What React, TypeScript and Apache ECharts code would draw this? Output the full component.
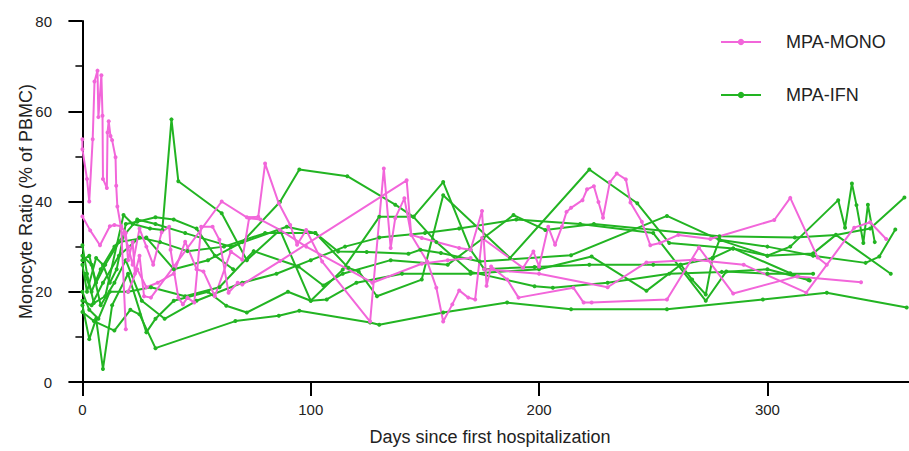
import React, { useEffect, useRef } from 'react';
import * as echarts from 'echarts';

const xTickValues = [0, 100, 200, 300];
const legendNames = ['MPA-MONO', 'MPA-IFN'];

// MPA-MONO patients: [day, monocyte %]
const mono1: number[][] = [[0,53.8],[0,51.6],[2,45],[3,40],[4.5,53.8],[5.3,66.6],[6.6,69],[7,58.7],[8.3,68],[8.8,59],[9,45],[10.7,43],[11,55.3],[11.5,57.8],[12.3,54.5],[13,53.6],[14.5,49.8],[14.8,43.5],[15.3,38.9],[17,34],[19,11.7]];
const mono2: number[][] = [[0,36.7],[3.4,33.6],[7.7,30.3],[12,34.5],[14,34.8],[17,34.5],[19,33],[20,27],[22,31],[23,24],[25,28],[27,19],[30,18.7],[61,40],[72,36.5],[77,36.6],[80,48.4],[86,39.6],[91,34.8],[94,30.4],[98,33.7],[105,26.7],[126,13.4],[132,47.3],[135,29.7],[137,36.3],[141,40.7],[144,32.6],[148.6,31.9],[165,29.7],[170,29.3],[175,37.9],[177,21.3],[179,25.6],[186,22.7],[191,18.7],[215,20.9],[219.5,17.6],[223,17.6],[256,18.3],[270,29.8],[285,19.6],[313,23.4],[341,22.1]];
const mono3: number[][] = [[18,33],[20,30],[22,26],[25,34],[28,30],[31,26],[34.7,33.2],[38,34.4],[38.6,29.3],[42,18.7],[44,17.2],[46,18.7],[49,17.6],[52,34.4],[57,34.4],[60,31.5],[64,19.8],[68,22],[70,21.6],[86.5,26.8],[142,44.7],[144,32.6],[151,26.7],[155,20.9],[158,13.4],[162,17.2],[165,20.3],[169,18.7],[172,18.3],[175,31.9],[193,25.3],[197.5,28.9],[200,25.6],[204,34.4],[207,30.4],[210,34.4],[212,37.7],[214,38.6],[219,40.3],[221,42.7],[224,43.4],[226,39.9],[228,36.4],[231,44.3],[234,46.2],[238,44.9],[240,39.8],[245,35.5],[248.7,30.3],[253,30.8],[261,32.6],[275,31.7],[303,35.9],[310,40.8],[322,27.6],[326,26]];
const mono4: number[][] = [[20,20],[24,25],[28,21],[33,22],[40,24],[45,31.1],[50,25],[53,24.5],[58,19],[65,28.9],[70,27.1],[73,36.3],[78,36],[86.5,33.7],[98,30],[127,22],[148.6,26.2],[160,27],[170,27.5]];
const mono5: number[][] = [[176,25],[200,24],[230,21],[247,26.5],[268,27.1],[289.6,26],[317,19.8],[338,34.2],[345,35.4],[352,31.7]];

// MPA-IFN patients: [day, monocyte %]
const ifn1: number[][] = [[0,15.5],[5,13.5],[14,11.4],[21,16],[25,15],[32,7.5],[67,13.5],[86,14.7],[95,15.8],[126,13.2],[130,12.7],[158,15.4],[186,17.6],[214,16.1],[256,16.1],[298,18.3],[326,19.8],[361,16.5]];
const ifn2: number[][] = [[0,30.3],[2,24],[5,17.5],[10,19],[18,37],[22,35],[29.6,34],[35,33.7],[39,58.2],[42,44.5],[61,37.4],[72,27],[86.5,33.7],[100,18],[114,24.9],[130,36.6],[145,36.6],[158,44.3],[170,29.3],[176,25],[198,25.5],[222,26],[250,26],[262,26],[276,27.5],[285,29.6],[310,24.1],[318.5,22.5]];
const ifn3: number[][] = [[0,27],[3,28],[6,22],[10,26],[16,31],[28,32],[40,25],[55,27],[70,31],[86.5,39.9],[95,47.1],[116,45.6],[137,39.3],[145,36.6],[155,31],[170,24.4],[198,21.2],[206,20.9],[230,22],[257,24],[280,24.4],[300,25],[318,22.6]];
const ifn4: number[][] = [[0,18],[4,17],[9,22],[16,28],[25,32],[34,31],[46,29],[62,30],[80,33],[102,33],[116.5,25.3],[121,24.5],[129,19],[148.6,22.7],[158,41.4],[187.3,27.5],[222,47.1],[243,39.6],[257,30.8],[285,29.6],[300,28],[310,30],[331,40.3],[334,34.2],[337,44],[339,39.2],[342,30.8],[344,39.3],[347,31]];
const ifn5: number[][] = [[1,24],[4,20],[8,25],[14,30],[24,36],[32,35],[45,33],[65,30],[89.5,34.4],[102,33],[112,28.9],[124.5,28.8],[142.8,28.4],[148,29.3],[157,28.6],[174,26.7],[214,28.1],[256,36.8],[279,31.5],[300,30],[320,28],[343,26.4],[349,27.8],[356,33.8]];
const ifn6: number[][] = [[0,20],[3,16],[7,14],[12,20],[20,20],[30,21],[45,19],[60,21],[75,29],[94.6,25.6],[105.5,21.4],[114,24],[135,27],[160,26],[175.6,31.9],[188.8,37],[202.7,33.7],[224,35],[279,32.3],[312,32],[330,32.6],[354,24]];
const ifn7: number[][] = [[0,17],[3,9.5],[6,14],[9,2.9],[13,17],[20,24],[28,11],[32,14],[40,18],[55,20],[63,16.9],[72,15.4],[90,20],[100,18],[107,18.3],[120,22],[140,24],[170,24],[200,25],[223,27.8],[247,20.2],[262,26],[267,22.7],[273,19.4],[276,27.5],[279,31.5],[300,28],[320,28.5],[330,32.6],[345,34],[360,40.9]];
const ifn8: number[][] = [[0,28],[4,26],[8,17],[14,22],[19,27],[26,18],[36,14],[50,18],[70,22],[85,24],[100,27],[115,30],[130,32],[150,33],[165,34],[190,36],[218,35],[250,33],[273,18],[282,24.5],[300,24],[320,24]];
const ifn9: number[][] = [[0,26],[2,20],[6,27.5],[9,26],[12,22],[15,25],[19,35],[24,35.5],[32,36.5],[40,36],[50,34],[58,28],[66,25]];

const monoList = [mono1, mono2, mono3, mono4, mono5];
const ifnList = [ifn1, ifn2, ifn3, ifn4, ifn5, ifn6, ifn7, ifn8, ifn9];

const PINK = '#f266da';
const GREEN = '#22b422';
const FONT = 'Arial, "Liberation Sans", sans-serif';
const TEXT = '#222';

export default function App() {
  const ref = useRef<HTMLDivElement>(null);
  useEffect(() => {
    if (!ref.current) return;
    const chart = echarts.init(ref.current, undefined, { renderer: 'svg' });
    const mk = (name: string, color: string, data: number[][]) => ({
      type: 'line',
      name,
      data,
      symbol: 'circle',
      symbolSize: 4,
      showSymbol: true,
      lineStyle: { color, width: 2 },
      itemStyle: { color },
      emphasis: { disabled: true },
    });
    const series = [
      ...ifnList.map((d) => mk(legendNames[1], GREEN, d)),
      ...monoList.map((d) => mk(legendNames[0], PINK, d)),
    ];
    chart.setOption({
      animation: false,
      grid: { left: 71, top: 21, right: 0, bottom: 66, containLabel: false },
      legend: {
        data: legendNames,
        orient: 'vertical',
        left: 720,
        top: 33,
        padding: 0,
        itemWidth: 40,
        itemHeight: 8,
        itemGap: 35,
        textStyle: { fontSize: 18, color: TEXT, fontFamily: FONT, padding: [0, 0, 0, 20] },
      },
      xAxis: {
        type: 'value',
        min: -5,
        max: 362,
        name: 'Days since first hospitalization',
        nameLocation: 'middle',
        nameGap: 46,
        nameMoveOverlap: false,
        nameTextStyle: { fontSize: 18, color: TEXT, fontFamily: FONT },
        axisLine: { show: true, onZero: false, lineStyle: { color: '#000', width: 2 } },
        axisTick: { show: true, customValues: xTickValues, length: 14, lineStyle: { color: '#000', width: 2 } },
        axisLabel: { customValues: xTickValues, margin: 20, fontSize: 15, color: TEXT, fontFamily: FONT },
        splitLine: { show: false },
      },
      yAxis: {
        type: 'value',
        min: 0,
        max: 80,
        interval: 20,
        name: 'Monocyte Ratio (% of PBMC)',
        nameLocation: 'middle',
        nameGap: 36,
        nameMoveOverlap: false,
        nameTextStyle: { fontSize: 18, color: TEXT, fontFamily: FONT },
        axisLine: { show: true, lineStyle: { color: '#000', width: 2 } },
        axisTick: { show: true, length: 14, lineStyle: { color: '#000', width: 2 } },
        minorTick: { show: true, splitNumber: 2, length: 7, lineStyle: { color: '#000', width: 1.5 } },
        axisLabel: { margin: 19, fontSize: 15, color: TEXT, fontFamily: FONT },
        splitLine: { show: false },
      },
      series,
    });
    return () => chart.dispose();
  }, []);
  return <div ref={ref} style={{ position: 'absolute', left: 0, top: 0, width: 909, height: 451 }} />;
}
